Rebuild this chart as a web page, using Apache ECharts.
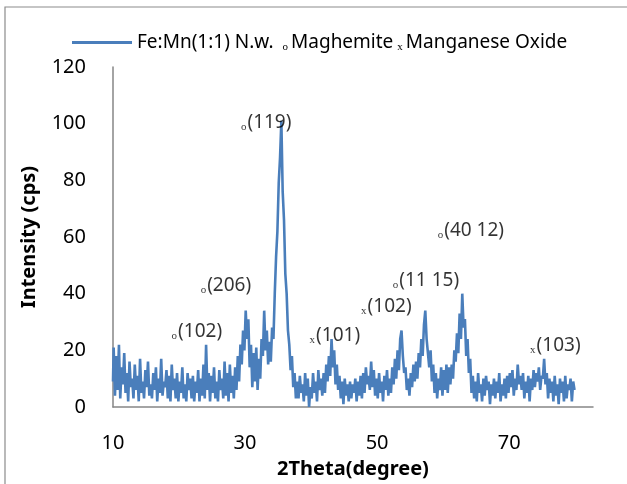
<!DOCTYPE html>
<html>
<head>
<meta charset="utf-8">
<script src="https://cdn.jsdelivr.net/npm/echarts@6/dist/echarts.min.js"></script>
<style>
    html, body { margin: 0; padding: 0; background: #fff; }
    #container { width: 627px; height: 484px; }
</style>
</head>
<body>
<div id="container"></div>
<script type="text/javascript">
    // XRD pattern, Fe:Mn(1:1) nanowires, every 0.2 degree
    var thetaStart = 10;
    var thetaStep = 0.2;
    var intensity = [
        9, 21, 4, 18, 6, 22, 3, 14, 8, 19,       // 10
        5, 12, 2, 16, 7, 10, 3, 15, 6, 11,       // 12
        2, 17, 5, 9, 3, 13, 7, 16, 4, 8,         // 14
        3, 12, 6, 14, 2, 10, 5, 17, 4, 9,        // 16
        7, 13, 3, 11, 2, 15, 6, 10, 3, 12,       // 18
        2, 9, 5, 14, 3, 8, 2, 12, 6, 10,         // 20
        3, 11, 2, 9, 5, 13, 2, 10, 4, 15,        // 22
        3, 22, 6, 12, 2, 11, 5, 14, 3, 9,        // 24
        2, 13, 6, 10, 3, 16, 4, 12, 2, 15,       // 26
        5, 11, 3, 14, 6, 18, 9, 22, 15, 27,      // 28
        20, 34, 24, 31, 14, 22, 7, 19, 9, 21,    // 30
        6, 17, 10, 24, 18, 34, 20, 27, 15, 23,   // 32
        16, 28, 24, 40, 53, 62, 79, 88, 101, 76, // 34
        66, 47, 40, 27, 22, 13, 18, 7, 12, 3,    // 36
        9, 3, 11, 5, 8, 2, 12, 4, 10, 0,         // 38
        7, 3, 12, 5, 9, 2, 13, 6, 10, 4,         // 40
        12, 5, 15, 9, 18, 11, 24, 14, 20, 8,     // 42
        15, 6, 11, 3, 9, 1, 10, 4, 8, 2,         // 44
        9, 3, 8, 5, 10, 2, 9, 4, 11, 3,          // 46
        12, 5, 14, 8, 11, 6, 16, 7, 13, 4,       // 48
        10, 3, 12, 5, 9, 2, 11, 6, 13, 4,        // 50
        10, 5, 14, 8, 17, 10, 20, 13, 24, 27,    // 52
        18, 12, 14, 6, 10, 4, 12, 7, 15, 9,      // 54
        16, 10, 19, 14, 24, 18, 29, 34, 24, 19,  // 56
        14, 20, 9, 15, 5, 12, 3, 10, 6, 14,      // 58
        4, 13, 6, 15, 5, 14, 8, 15, 10, 20,      // 60
        16, 26, 19, 33, 24, 40, 28, 31, 18, 24,  // 62
        12, 17, 5, 11, 3, 9, 2, 12, 5, 8,        // 64
        2, 10, 4, 11, 6, 9, 1, 8, 4, 10,         // 66
        3, 9, 5, 12, 2, 8, 4, 10, 3, 11,         // 68
        5, 12, 7, 13, 4, 10, 6, 15, 8, 11,       // 70
        6, 12, 3, 9, 5, 11, 2, 10, 6, 13,        // 72
        7, 12, 9, 14, 6, 11, 10, 17, 8, 12,      // 74
        3, 10, 5, 9, 2, 11, 4, 8, 1, 10,         // 76
        5, 9, 2, 11, 3, 8, 6, 10, 2, 9,          // 78
        6                                        // 80
    ];

    // peak labels (centre of the text, in data units)
    var peakX = [33.2, 27.1, 22.7, 43.6, 51.4, 57.4, 64.2, 77.0];
    var peakY = [100.4, 42.8, 26.7, 25.3, 35.4, 44.6, 62.1, 21.8];
    var peakPhase = ['o', 'o', 'o', 'x', 'x', 'o', 'o', 'x'];
    var peakHkl = ['(119)', '(206)', '(102)', '(101)', '(102)', '(11 15)', '(40 12)', '(103)'];

    var xTickLabels = [10, 30, 50, 70];
    var yTicks = { min: 0, max: 120, interval: 20 };

    var seriesName = 'Fe:Mn(1:1) N.w.';
    var lineColor = '#4a7ebb';
    var axisColor = '#868686';
    var font = '"Noto Sans", "Open Sans", sans-serif';

    var lineData = intensity.map(function (v, i) {
        return [+(thetaStart + i * thetaStep).toFixed(1), v];
    });
    var labelData = peakX.map(function (x, i) {
        return { value: [x, peakY[i]], phase: peakPhase[i], hkl: peakHkl[i] };
    });

    var smallMark = { fontFamily: '"Liberation Serif", serif', fontSize: 11, color: '#000', verticalAlign: 'bottom', padding: [0, 1, 2, 0] };
    var legendMark = { fontFamily: '"Liberation Serif", serif', fontSize: 11, color: '#000', verticalAlign: 'bottom', padding: [0, 3, 2, 4] };

    var myChart = echarts.init(document.getElementById('container'), null, { renderer: 'canvas' });
    var option = {
        animation: false,
        backgroundColor: '#fff',
        textStyle: { fontFamily: font },
        graphic: [{
            type: 'rect',
            shape: { x: 5, y: 7, width: 700, height: 600 },
            style: { fill: 'none', stroke: '#8c8c8c', lineWidth: 1.2 },
            silent: true
        }],
        legend: {
            data: [{ name: seriesName, icon: 'rect' }],
            left: 67,
            top: 28,
            itemWidth: 60,
            itemHeight: 3,
            itemStyle: { color: lineColor },
            formatter: function () {
                return '{n|' + seriesName + '} {s|o}{n|Maghemite}{s|x}{n|Manganese Oxide}';
            },
            textStyle: {
                fontFamily: font,
                fontSize: 19,
                color: '#000',
                rich: {
                    n: { fontFamily: font, fontSize: 19, color: '#000', lineHeight: 24 },
                    s: legendMark
                }
            }
        },
        grid: { left: 113, right: 34, top: 67, bottom: 75, containLabel: false },
        xAxis: {
            type: 'value',
            min: 10,
            max: 82.7,
            name: '2Theta(degree)',
            nameLocation: 'middle',
            nameGap: 52,
            nameTextStyle: { fontFamily: font, fontSize: 20, fontWeight: 'bold', color: '#000' },
            axisLine: { show: true, lineStyle: { color: axisColor, width: 1.5 } },
            axisTick: { show: false },
            splitLine: { show: false },
            axisLabel: {
                customValues: xTickLabels,
                fontSize: 20,
                color: '#000',
                margin: 26
            }
        },
        yAxis: {
            type: 'value',
            min: yTicks.min,
            max: yTicks.max,
            interval: yTicks.interval,
            name: 'Intensity (cps)',
            nameLocation: 'middle',
            nameGap: 74,
            nameTextStyle: { fontFamily: font, fontSize: 20, fontWeight: 'bold', color: '#000' },
            axisLine: { show: true, lineStyle: { color: axisColor, width: 1.5 } },
            axisTick: { show: false },
            splitLine: { show: false },
            axisLabel: { fontSize: 20, color: '#000', margin: 27 }
        },
        series: [{
            name: seriesName,
            type: 'line',
            data: lineData,
            step: 'middle',
            symbol: 'none',
            lineStyle: { color: lineColor, width: 2.6 },
            itemStyle: { color: lineColor },
            z: 2
        }, {
            name: 'labels',
            type: 'scatter',
            data: labelData,
            symbolSize: 0,
            silent: true,
            z: 3,
            label: {
                show: true,
                position: 'inside',
                formatter: function (p) {
                    return '{s|' + p.data.phase + '}{t|' + p.data.hkl + '}';
                },
                rich: {
                    t: { fontFamily: font, fontSize: 19, color: '#000', lineHeight: 24 },
                    s: smallMark
                }
            }
        }]
    };
    myChart.setOption(option);
</script>
</body>
</html>
